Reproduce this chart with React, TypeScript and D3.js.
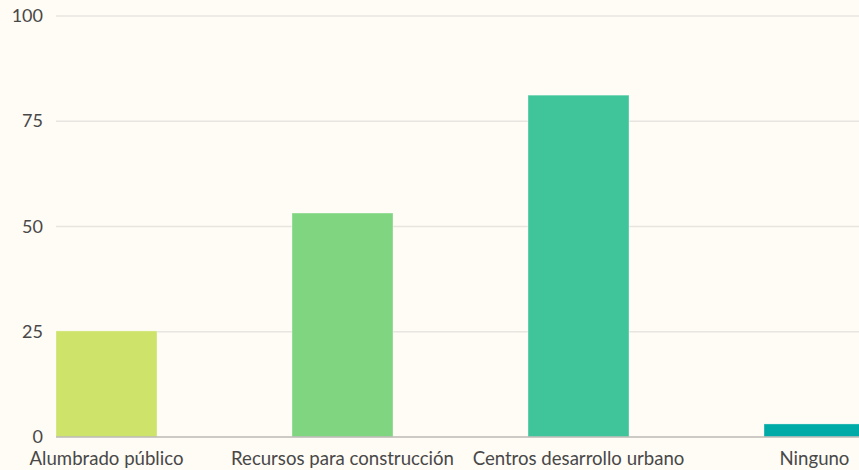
import React, { useEffect, useRef } from 'react';
import * as d3 from 'd3';

const categories = ['Alumbrado público', 'Recursos para construcción', 'Centros desarrollo urbano', 'Ninguno'];
const values = [25.2, 53.2, 81.2, 3.1];
const barColors = ['#cde36a', '#80d580', '#40c59a', '#00aaa6'];
const yTicks = [0, 25, 50, 75, 100];

const App = () => {
    const svgRef = useRef<SVGSVGElement>(null);

    useEffect(() => {
        const width = 859;
        const height = 470;
        const left = 56;
        const top = 16;
        const bottom = 437;

        const svg = d3.select(svgRef.current);
        svg.selectAll('*').remove();
        svg.attr('width', width).attr('height', height);

        svg.append('rect')
            .attr('width', width)
            .attr('height', height)
            .attr('fill', '#fffbf5');

        const y = d3.scaleLinear().domain([0, 100]).range([bottom, top]);

        // bands: 101px bars on a 236px step, last one runs past the edge
        const x = d3.scaleBand<string>()
            .domain(categories)
            .range([left, left + 236 * (4 - 135 / 236)])
            .paddingInner(135 / 236)
            .paddingOuter(0)
            .align(0);

        // grid
        svg.append('g')
            .selectAll('line')
            .data(yTicks.filter(t => t > 0))
            .enter()
            .append('line')
            .attr('x1', left)
            .attr('x2', width)
            .attr('y1', d => y(d))
            .attr('y2', d => y(d))
            .attr('stroke', '#e8e5e1')
            .attr('stroke-width', 1.5);

        // y labels
        svg.append('g')
            .selectAll('text')
            .data(yTicks)
            .enter()
            .append('text')
            .attr('x', 43)
            .attr('y', d => y(d) + 6)
            .attr('text-anchor', 'end')
            .style('font-family', 'Lato, sans-serif')
            .style('font-size', '18px')
            .style('fill', '#484848')
            .text(d => d);

        // bars
        svg.append('g')
            .selectAll('rect')
            .data(values)
            .enter()
            .append('rect')
            .attr('x', (d, i) => x(categories[i]) as number)
            .attr('y', d => y(d))
            .attr('width', x.bandwidth())
            .attr('height', d => bottom - y(d))
            .attr('fill', (d, i) => barColors[i])
            .attr('stroke', 'rgba(255,255,255,0.35)')
            .attr('stroke-width', 1);

        // baseline
        svg.append('line')
            .attr('x1', left)
            .attr('x2', width)
            .attr('y1', bottom)
            .attr('y2', bottom)
            .attr('stroke', '#bdbab6')
            .attr('stroke-width', 1.5);

        // category labels
        svg.append('g')
            .selectAll('text')
            .data(categories)
            .enter()
            .append('text')
            .attr('x', d => (x(d) as number) + x.bandwidth() / 2)
            .attr('y', 465)
            .attr('text-anchor', 'middle')
            .style('font-family', 'Lato, sans-serif')
            .style('font-size', '18.6px')
            .style('fill', '#484848')
            .text(d => d);
    }, []);

    return (
        <svg ref={svgRef} style={{ position: 'absolute', top: 0, left: 0, display: 'block' }}></svg>
    );
};

export default App;
